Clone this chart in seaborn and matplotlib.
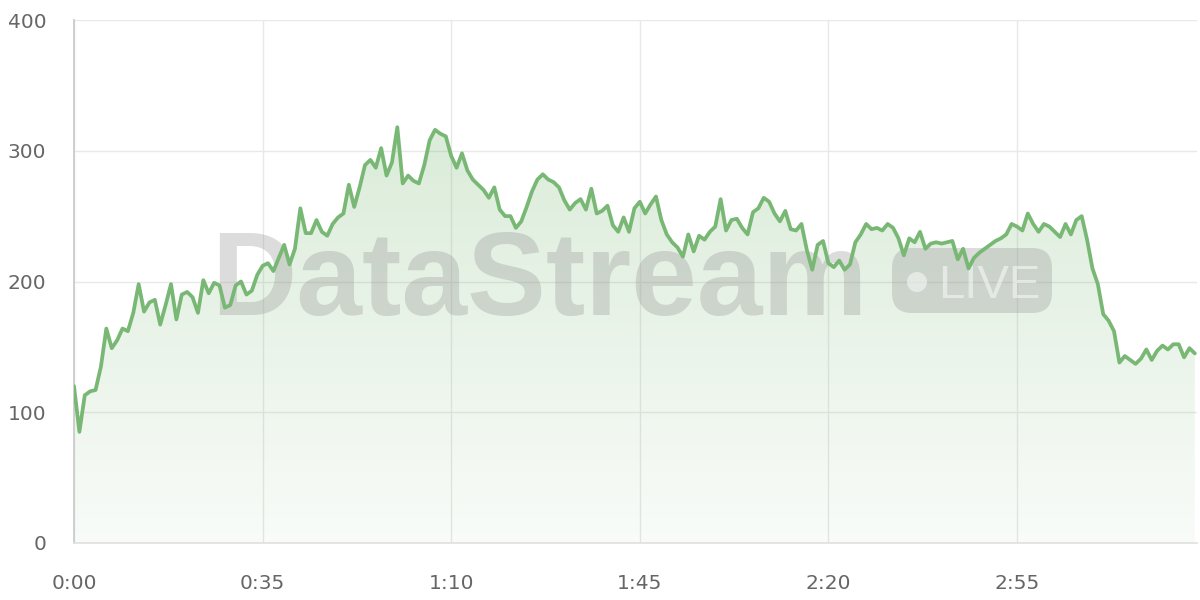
import numpy as np
import pandas as pd
import matplotlib
matplotlib.use("Agg")
import matplotlib.pyplot as plt
import seaborn as sns
from matplotlib.patches import FancyBboxPatch, Circle, PathPatch
from matplotlib.colors import LinearSegmentedColormap

# ---- data (one reading per second) ----
values = [
    120, 85, 113, 116, 117, 135, 164, 149, 155, 164,
    162, 176, 198, 177, 184, 186, 167, 182, 198, 171,
    190, 192, 188, 176, 201, 191, 199, 197, 180, 182,
    197, 200, 190, 193, 205, 212, 214, 208, 218, 228,
    213, 225, 256, 237, 237, 247, 238, 235, 244, 249,
    252, 274, 257, 272, 289, 293, 287, 302, 281, 291,
    318, 275, 281, 277, 275, 289, 308, 316, 313, 311,
    296, 287, 298, 285, 278, 274, 270, 264, 272, 255,
    250, 250, 241, 246, 257, 269, 278, 282, 278, 276,
    272, 262, 255, 260, 263, 255, 271, 252, 254, 258,
    243, 238, 249, 238, 256, 261, 252, 259, 265, 247,
    236, 230, 226, 219, 236, 223, 235, 232, 238, 242,
    263, 239, 247, 248, 241, 236, 253, 256, 264, 261,
    252, 246, 254, 240, 239, 244, 224, 209, 228, 231,
    214, 211, 216, 209, 213, 230, 236, 244, 240, 241,
    239, 244, 241, 233, 220, 233, 230, 238, 225, 229,
    230, 229, 230, 231, 217, 225, 210, 218, 222, 225,
    228, 231, 233, 236, 244, 242, 239, 252, 244, 238,
    244, 242, 238, 234, 244, 236, 247, 250, 232, 210,
    198, 175, 170, 162, 138, 143, 140, 137, 141, 148,
    140, 147, 151, 148, 152, 152, 142, 149, 145,
]
seconds = list(range(len(values)))
x_tick_seconds = [0, 35, 70, 105, 140, 175]
x_tick_labels = ["0:00", "0:35", "1:10", "1:45", "2:20", "2:55"]
y_ticks = [0, 100, 200, 300, 400]

LINE = "#78b874"

sns.set_theme(style="white")
plt.rcParams["font.family"] = ["DejaVu Sans"]

fig = plt.figure(figsize=(12, 6), dpi=100)
ax = fig.add_axes([74 / 1200, 57 / 600, 1123 / 1200, 523 / 600])

df = pd.DataFrame({"t": seconds, "v": values})

# gradient area under the line
poly = ax.fill_between(df["t"], df["v"], 0, color="none", lw=0)
clip = PathPatch(poly.get_paths()[0], transform=ax.transData,
                 facecolor="none", edgecolor="none")
ax.add_patch(clip)
cmap = LinearSegmentedColormap.from_list(
    "g", [(0.47, 0.72, 0.45, 0.05), (0.47, 0.72, 0.45, 0.27)])
grad = np.linspace(0, 1, 256).reshape(-1, 1)
im = ax.imshow(grad, extent=[0, 208, 0, 320], origin="lower",
               aspect="auto", cmap=cmap, zorder=2, interpolation="bilinear")
im.set_clip_path(clip)

sns.lineplot(data=df, x="t", y="v", ax=ax, color=LINE, lw=2.7, zorder=6)

# watermark
wm = "#9a9a9a"
ax.text(211 / 1200, (600 - 315) / 600, "DataStream", transform=fig.transFigure,
        family="Liberation Sans", fontweight="bold", fontsize=85,
        color=wm, alpha=0.34, ha="left", va="baseline", zorder=4)
inch = fig.dpi_scale_trans
badge = FancyBboxPatch((8.92, (600 - 313) / 100), 1.60, 0.65,
                       boxstyle="round,pad=0,rounding_size=0.2",
                       transform=inch, facecolor=wm, edgecolor="none",
                       alpha=0.34, zorder=4, clip_on=False)
ax.add_patch(badge)
ax.add_patch(Circle((9.17, (600 - 282) / 100), 0.10, transform=inch,
                    facecolor="white", edgecolor="none", alpha=0.5,
                    zorder=4.5, clip_on=False))
ax.text(938 / 1200, (600 - 298) / 600, "LIVE", transform=fig.transFigure,
        family="Liberation Sans", fontsize=34, color="white", alpha=0.5,
        ha="left", va="baseline", zorder=4.5)

ax.set_xlim(0, 208.4)
ax.set_ylim(0, 400)
ax.set_xticks(x_tick_seconds)
ax.set_xticklabels(x_tick_labels)
ax.set_yticks(y_ticks)
ax.set_xlabel("")
ax.set_ylabel("")

ax.grid(True, color="#e8e8e8", lw=1)
ax.set_axisbelow(True)
for s in ["top", "right"]:
    ax.spines[s].set_visible(False)
ax.spines["left"].set_color("#cccccc")
ax.spines["left"].set_linewidth(1.3)
ax.spines["bottom"].set_color("#e0e0e0")
ax.spines["bottom"].set_linewidth(1.2)
ax.tick_params(axis="y", length=11, width=1, color="#e8e8e8", pad=9,
               labelsize=14.5, labelcolor="#666666")
ax.tick_params(axis="x", length=14, width=1, color="#e8e8e8", pad=8,
               labelsize=14.5, labelcolor="#666666")

fig.savefig("out.png", dpi=100)
